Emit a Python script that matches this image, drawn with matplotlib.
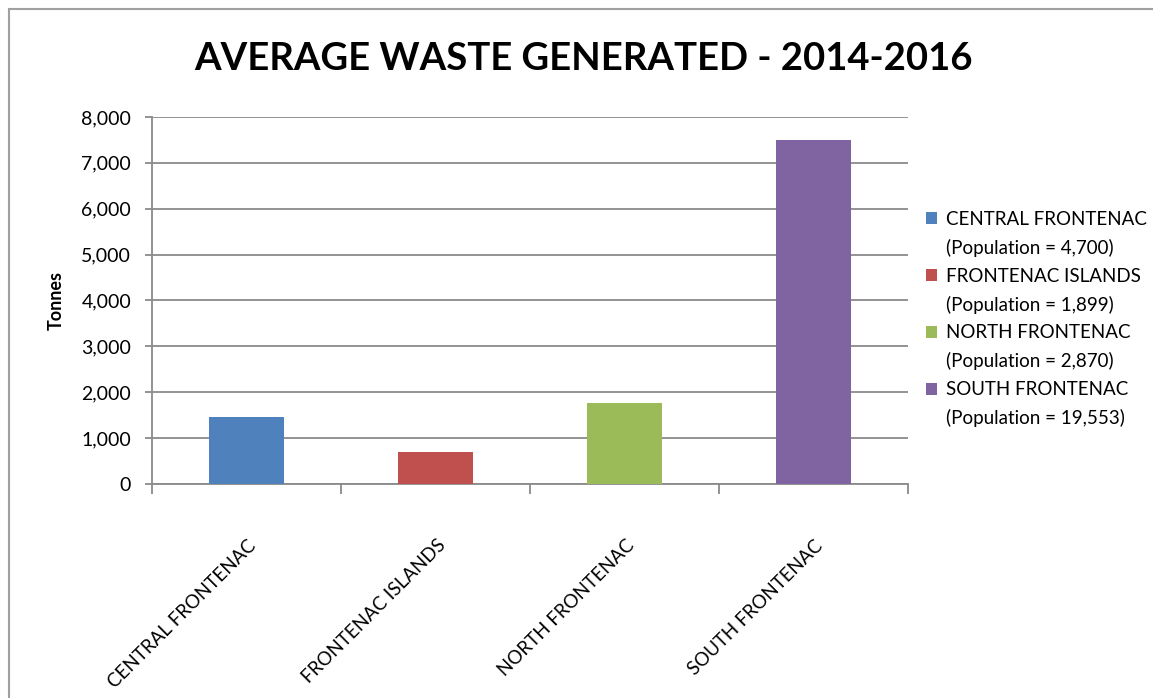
import matplotlib.pyplot as plt
from matplotlib.patches import Patch, Rectangle
from matplotlib.ticker import FuncFormatter
from matplotlib.transforms import ScaledTranslation

plt.rcParams['font.family'] = ['Lato', 'DejaVu Sans']

towns = ["CENTRAL FRONTENAC", "FRONTENAC ISLANDS", "NORTH FRONTENAC", "SOUTH FRONTENAC"]
waste_tonnes = [1470, 700, 1770, 7500]
population = ["4,700", "1,899", "2,870", "19,553"]
colors = ["#4F81BD", "#C0504D", "#9BBB59", "#8064A2"]

grid_col = "#8a8a8a"

fig = plt.figure(figsize=(11.53, 6.98), dpi=100)
ax = fig.add_axes([0.1318, 0.3066, 0.6557, 0.5258])

# chart frame
fig.patches.append(Rectangle((9 / 1153, -0.1), 1.2, 1 - 9 / 698 + 0.1,
                             transform=fig.transFigure, fill=False,
                             edgecolor="#a0a0a0", linewidth=1.5))

x = range(len(towns))
ax.bar(x, waste_tonnes, width=0.4, color=colors, zorder=3)

ax.set_xlim(-0.5, len(towns) - 0.5)
ax.set_ylim(0, 8000)
ax.set_yticks(range(0, 8001, 1000))
ax.yaxis.set_major_formatter(FuncFormatter(lambda v, p: f"{int(v):,}"))
ax.grid(axis="y", color=grid_col, linewidth=1.3, zorder=0)

for s in ["top", "right"]:
    ax.spines[s].set_visible(False)
for s in ["left", "bottom"]:
    ax.spines[s].set_color(grid_col)
    ax.spines[s].set_linewidth(1.3)

ax.set_xticks([i - 0.5 for i in range(len(towns) + 1)])
ax.set_xticklabels([])
ax.set_xticks(list(x), minor=True)
ax.set_xticklabels(towns, minor=True, rotation=45, ha="right", fontsize=13.5)
ax.tick_params(axis="x", which="major", length=7, color=grid_col, width=1.3)
ax.tick_params(axis="x", which="minor", length=0, pad=38)
ax.tick_params(axis="y", length=5, color=grid_col, width=1.3, labelsize=14, pad=10)
# nudge the slanted names a little to the right of the bar centres
shift = ScaledTranslation(0.13, 0, fig.dpi_scale_trans)
for lbl in ax.get_xticklabels(minor=True):
    lbl.set_transform(lbl.get_transform() + shift)

ax.set_ylabel("Tonnes", fontsize=13, fontweight="bold", labelpad=12)

fig.text(0.506, 0.915, "AVERAGE WASTE GENERATED - 2014-2016",
         ha="center", va="center", fontsize=27.5, fontweight="bold")

# legend: town name with swatch, population on the line below
handles, labels = [], []
for t, p, c in zip(towns, population, colors):
    handles += [Patch(facecolor=c), Patch(facecolor="none", edgecolor="none")]
    labels += [t, f"(Population = {p})"]
fig.legend(handles, labels, loc="upper left", bbox_to_anchor=(0.803, 0.698),
           frameon=False, fontsize=13.5, handlelength=0.6, handleheight=0.6,
           handletextpad=0.45, labelspacing=0.58, borderpad=0, borderaxespad=0)

fig.savefig("out.png", dpi=100)
